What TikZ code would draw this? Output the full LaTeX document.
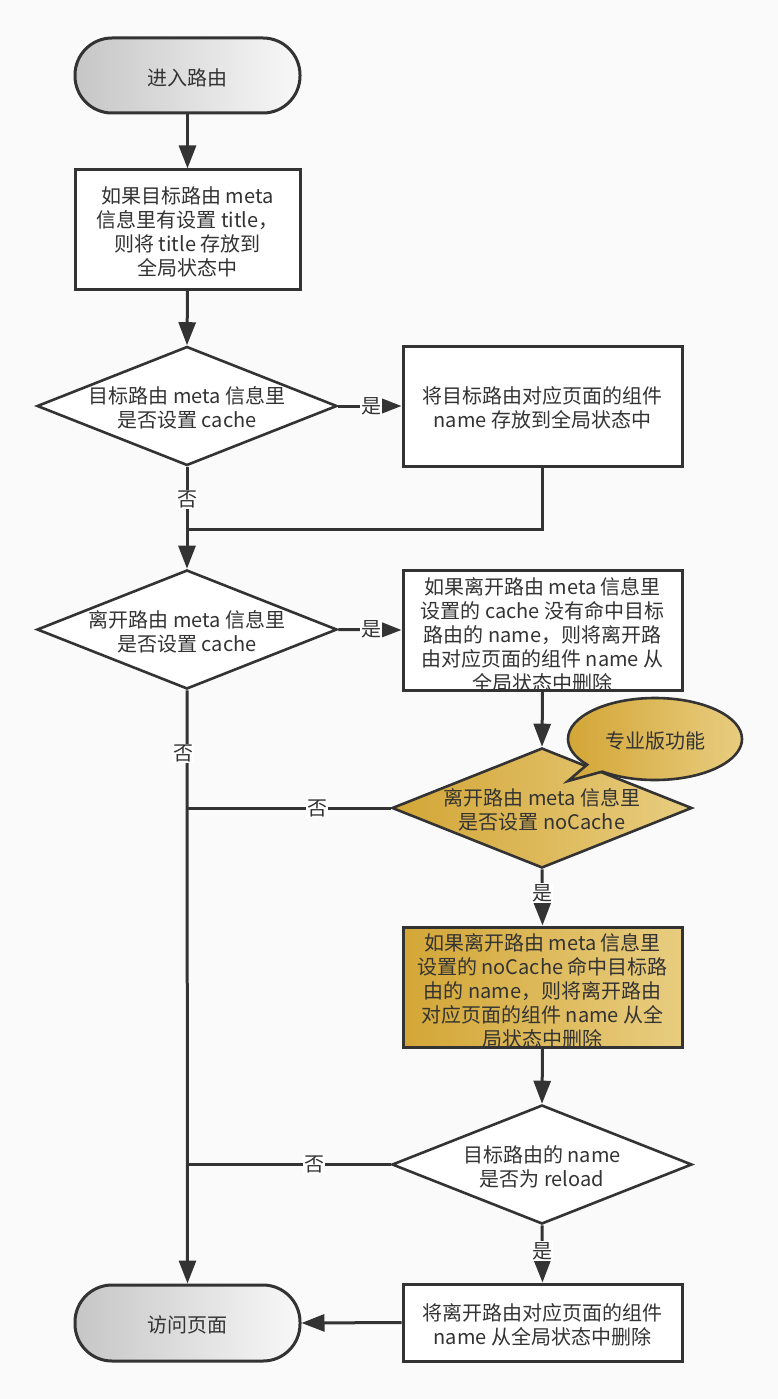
\documentclass[tikz,border=0pt]{standalone}
\usepackage{fontspec}
\newfontfamily\cjk{Noto Sans CJK SC}
\usetikzlibrary{arrows.meta,shapes.geometric,shapes.callouts}
\definecolor{paper}{HTML}{FAFAFA}
\definecolor{ink}{HTML}{333333}
\definecolor{termL}{HTML}{C6C6C6}
\definecolor{termR}{HTML}{F8F8F8}
\definecolor{goldL}{HTML}{D3A636}
\definecolor{goldR}{HTML}{E8CD80}
\tikzset{
  txt/.style={font=\cjk\fontsize{20}{24}\selectfont, text=ink, align=center},
  intext/.style={label={[txt, yshift=-2pt]center:{#1}}},
  box/.style={draw=ink, line width=3pt, fill=white, minimum width=279pt,
    minimum height=120pt, inner sep=0pt},
  term/.style={draw=ink, line width=3pt, rounded corners=37pt, minimum width=225pt,
    minimum height=75pt, left color=termL, right color=termR, inner sep=0pt},
  dec/.style={diamond, draw=ink, line width=2.6pt, fill=white, minimum width=300pt,
    minimum height=119pt, inner sep=0pt},
  gold/.style={left color=goldL, right color=goldR},
  flow/.style={draw=ink, line width=3pt, -{Triangle[length=23pt,width=17pt]}},
  link/.style={draw=ink, line width=3pt},
  lbl/.style={txt, fill=white, inner sep=1pt}
}
\begin{document}
\begin{tikzpicture}[x=1pt,y=-1pt]
\fill[paper] (0,0) rectangle (778,1399);
\useasboundingbox (0,0) rectangle (778,1399);

% main column
\node[term, intext={进入路由}] (start) at (187.5,75.5) {};
\node[box, minimum width=225pt, minimum height=119pt,
  intext={如果目标路由 meta\\信息里有设置 title，\\则将 title 存放到\\全局状态中}] (b1) at (187.5,229.5) {};
\node[dec, intext={目标路由 meta 信息里\\是否设置 cache}] (d1) at (187,406) {};
\node[dec, intext={离开路由 meta 信息里\\是否设置 cache}] (d2) at (187,629.5) {};
\node[term, minimum height=76pt, intext={访问页面}] (end) at (187.5,1323) {};

% right column
\node[box, intext={将目标路由对应页面的组件\\name 存放到全局状态中}] (b2) at (542.5,406) {};
\node[box, label={[txt, yshift=-5pt]center:{如果离开路由 meta 信息里\\设置的 cache 没有命中目标\\路由的 name，则将离开路\\由对应页面的组件 name 从\\全局状态中删除}}] (b3) at (542.5,630) {};
\node[dec, gold, minimum height=120pt,
  intext={离开路由 meta 信息里\\是否设置 noCache}] (d3) at (542,808) {};
\node[ellipse callout, draw=ink, line width=2.6pt, gold, minimum width=174pt,
  minimum height=82pt, inner sep=0pt, callout absolute pointer={(568,781)},
  callout pointer arc=14, intext={专业版功能}] (pro) at (655,739) {};
\node[box, gold, label={[txt, yshift=-4pt]center:{如果离开路由 meta 信息里\\设置的 noCache 命中目标路\\由的 name，则将离开路由\\对应页面的组件 name 从全\\局状态中删除}}] (b4) at (542.5,987) {};
\node[dec, intext={目标路由的 name\\是否为 reload}] (d4) at (542,1164.5) {};
\node[box, minimum height=77pt,
  intext={将离开路由对应页面的组件\\name 从全局状态中删除}] (b5) at (542.5,1322.5) {};

% junction points on the left trunk
\coordinate (j1) at (187,529);
\coordinate (j2) at (187,808);
\coordinate (j3) at (187,1164.5);

% connectors
\draw[flow] (start.south) -- (b1.north);
\draw[flow] (b1.south) -- (d1.north);
\draw[flow] (d1.east) -- node[lbl, pos=0.52] {是} (b2.west);
\draw[flow] (d1.south) -- node[lbl, pos=0.32] {否} (d2.north);
\draw[link] (b2.south) -- (b2.south |- j1) -- (j1);
\draw[flow] (d2.east) -- node[lbl, pos=0.52] {是} (b3.west);
\draw[flow] (b3.south) -- (d3.north);
\draw[flow] (d2.south) -- node[lbl, pos=0.106, xshift=-4pt] {否} (end.north);
\draw[link] (d3.west) -- node[lbl, pos=0.36] {否} (j2);
\draw[flow] (d3.south) -- node[lbl, pos=0.42] {是} (b4.north);
\draw[flow] (b4.south) -- (d4.north);
\draw[link] (d4.west) -- node[lbl, pos=0.376] {否} (j3);
\draw[flow] (d4.south) -- node[lbl, pos=0.45] {是} (b5.north);
\draw[flow] (b5.west) -- (end.east);
\end{tikzpicture}
\end{document}
